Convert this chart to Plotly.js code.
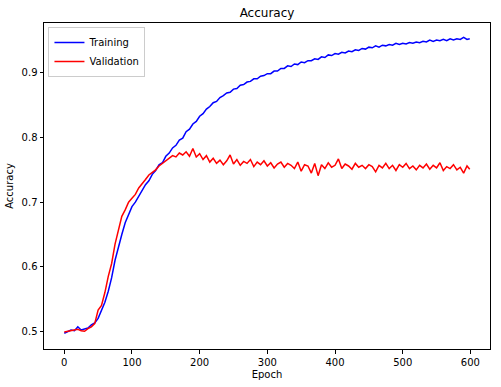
<!DOCTYPE html>
<html>
<head>
<meta charset="utf-8">
<script src="https://cdn.plot.ly/plotly-3.0.1.min.js"></script>
<style>html,body{margin:0;padding:0;background:#fff;}#chart{width:501px;height:387px;}</style>
</head>
<body>
<div id="chart"></div>
<script>
const epochs = [0,5,10,15,20,25,30,35,40,45,50,55,60,65,70,75,80,85,90,95,
100,105,110,115,120,125,130,135,140,145,150,155,160,165,170,175,180,185,190,195,
200,205,210,215,220,225,230,235,240,245,250,255,260,265,270,275,280,285,290,295,
300,305,310,315,320,325,330,335,340,345,350,355,360,365,370,375,380,385,390,395,
400,405,410,415,420,425,430,435,440,445,450,455,460,465,470,475,480,485,490,495,
500,505,510,515,520,525,530,535,540,545,550,555,560,565,570,575,580,585,590,595,599];

const training = [0.497,0.500,0.502,0.501,0.507,0.502,0.504,0.505,0.510,0.513,
0.520,0.532,0.545,0.562,0.583,0.610,0.632,0.650,0.668,0.682,
0.693,0.700,0.709,0.717,0.727,0.733,0.743,0.749,0.758,0.761,
0.771,0.776,0.784,0.788,0.796,0.799,0.809,0.813,0.821,0.825,
0.833,0.837,0.844,0.848,0.854,0.856,0.862,0.865,0.869,0.870,
0.875,0.876,0.881,0.882,0.886,0.887,0.891,0.891,0.895,0.896,
0.899,0.899,0.903,0.903,0.907,0.907,0.911,0.910,0.914,0.913,
0.917,0.916,0.919,0.919,0.922,0.921,0.925,0.924,0.928,0.927,
0.930,0.929,0.932,0.931,0.934,0.933,0.936,0.935,0.938,0.937,
0.940,0.939,0.942,0.940,0.943,0.942,0.944,0.943,0.946,0.944,
0.946,0.945,0.947,0.946,0.948,0.947,0.949,0.948,0.951,0.949,
0.951,0.950,0.952,0.950,0.953,0.951,0.953,0.952,0.955,0.952,0.953];

const validation = [0.499,0.500,0.502,0.502,0.503,0.501,0.500,0.504,0.507,0.512,
0.533,0.540,0.560,0.585,0.605,0.635,0.655,0.678,0.688,0.700,
0.706,0.712,0.722,0.728,0.735,0.742,0.746,0.750,0.756,0.760,
0.765,0.768,0.772,0.770,0.776,0.773,0.778,0.771,0.783,0.770,
0.775,0.766,0.772,0.762,0.768,0.760,0.765,0.758,0.764,0.773,
0.759,0.766,0.757,0.763,0.760,0.766,0.755,0.762,0.758,0.764,
0.756,0.761,0.753,0.759,0.762,0.754,0.760,0.757,0.752,0.762,
0.748,0.758,0.756,0.745,0.760,0.741,0.758,0.752,0.761,0.754,
0.757,0.767,0.752,0.759,0.756,0.751,0.760,0.754,0.757,0.752,
0.758,0.755,0.747,0.757,0.753,0.760,0.752,0.757,0.749,0.758,
0.754,0.760,0.752,0.756,0.750,0.757,0.753,0.759,0.751,0.757,
0.753,0.761,0.749,0.755,0.752,0.758,0.750,0.754,0.745,0.756,0.751];

const xTicks = [0,100,200,300,400,500,600];
const yTicks = [0.5,0.6,0.7,0.8,0.9];

const font = 'DejaVu Sans, sans-serif';
const traces = [
  {x: epochs, y: training, name: 'Training', type: 'scatter', mode: 'lines',
   line: {color: '#0000ff', width: 1.5}},
  {x: epochs, y: validation, name: 'Validation', type: 'scatter', mode: 'lines',
   line: {color: '#ff0000', width: 1.5}}
];
const axisCommon = {
  showgrid: false, zeroline: false, showline: true, mirror: true,
  linecolor: '#000', linewidth: 1, ticks: 'outside', ticklen: 3.5,
  tickwidth: 1, tickcolor: '#000', tickfont: {family: font, size: 10, color: '#000'}
};
const layout = {
  width: 501, height: 387,
  margin: {l: 44, r: 11, t: 23, b: 38},
  paper_bgcolor: '#fff', plot_bgcolor: '#fff',
  font: {family: font, color: '#000'},
  title: {text: 'Accuracy', font: {family: font, size: 12, color: '#000'},
          x: 0.533, xanchor: 'center', y: 0.968, yanchor: 'middle'},
  xaxis: Object.assign({}, axisCommon, {
    range: [-29.95, 628.95], tickvals: xTicks, ticktext: xTicks.map(String),
    title: {text: 'Epoch', font: {family: font, size: 10, color: '#000'}, standoff: 4}
  }),
  yaxis: Object.assign({}, axisCommon, {
    range: [0.4726, 0.9774], tickvals: yTicks, ticktext: yTicks.map(v => v.toFixed(1)),
    title: {text: 'Accuracy', font: {family: font, size: 10, color: '#000'}, standoff: 6}
  }),
  showlegend: true,
  legend: {x: 0.01, y: 0.988, xanchor: 'left', yanchor: 'top',
           bgcolor: 'rgba(255,255,255,0.8)', bordercolor: '#cccccc', borderwidth: 1,
           font: {family: font, size: 10, color: '#000'}, tracegroupgap: 0, itemwidth: 30}
};
Plotly.newPlot('chart', traces, layout, {displayModeBar: false, staticPlot: true});
</script>
</body>
</html>
